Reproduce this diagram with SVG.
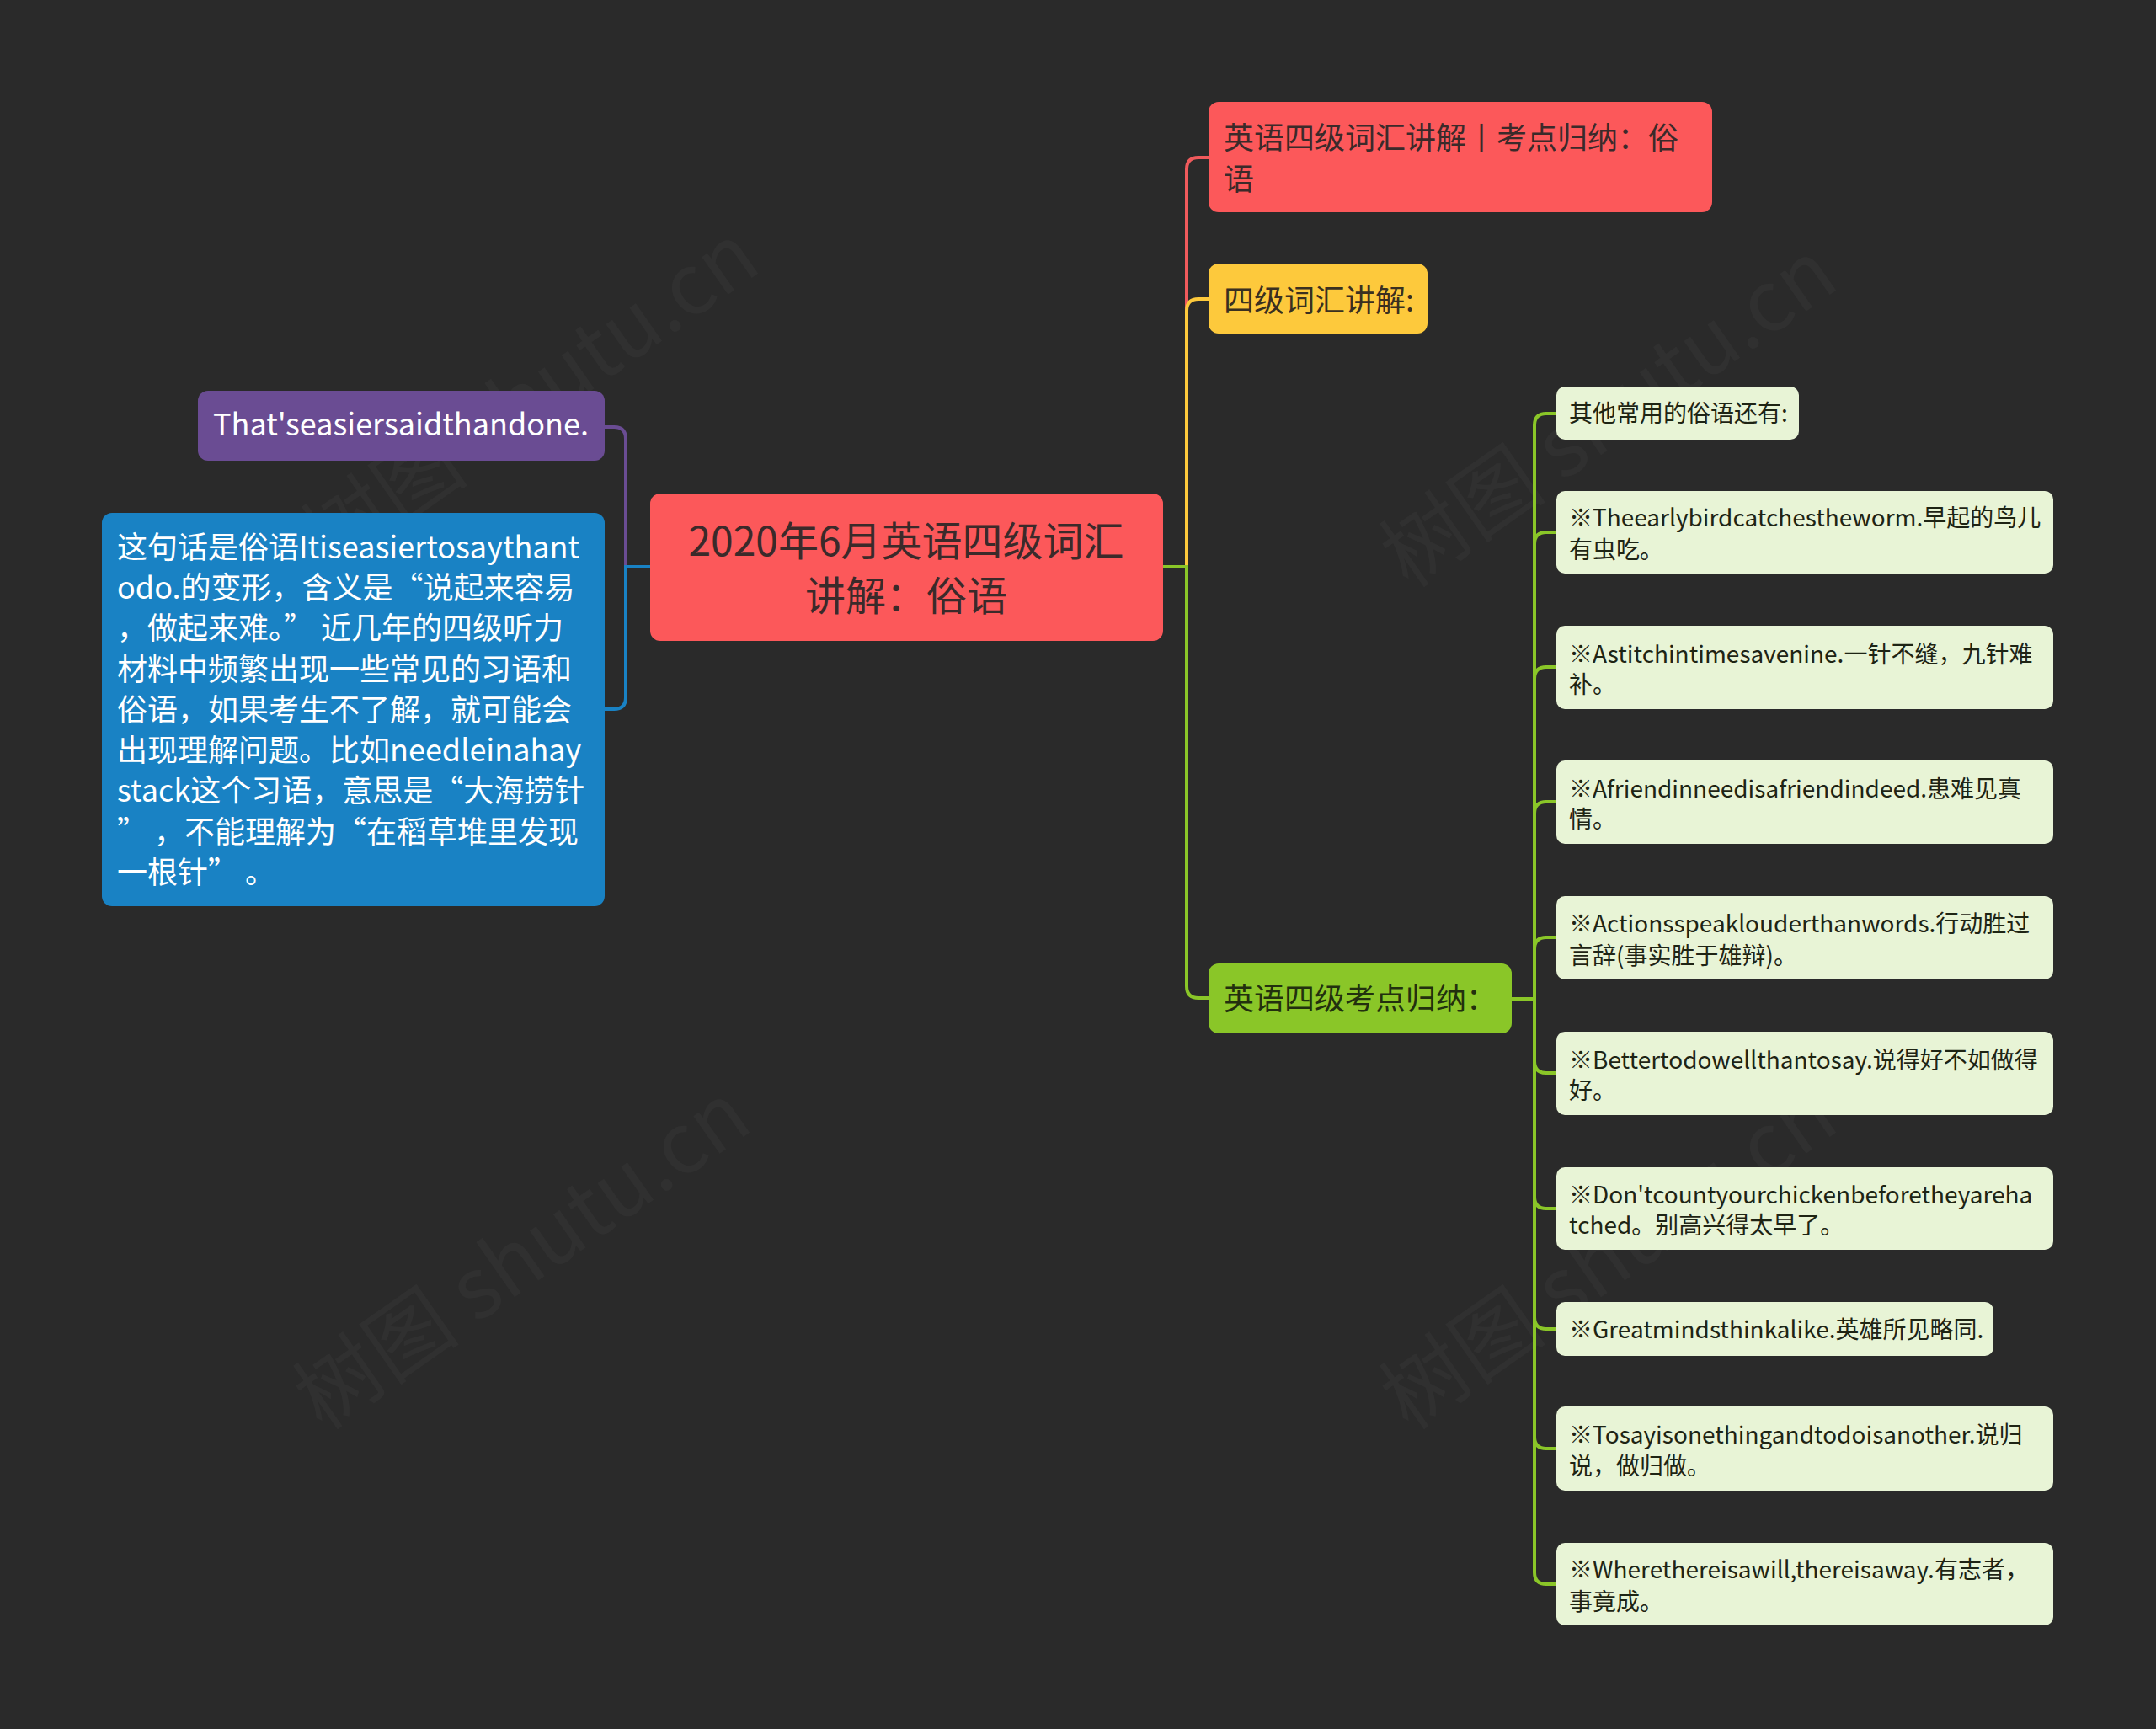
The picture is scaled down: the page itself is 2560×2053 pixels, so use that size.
<svg xmlns="http://www.w3.org/2000/svg" width="2560" height="2053" viewBox="0 0 2560 2053">
<style>
.t{font-family:"Noto Sans CJK SC","Noto Sans",sans-serif}
.c{fill:none;stroke-width:4;stroke-linecap:round}
.sub rect{fill:#E8F4D6}
.sub text{font-size:28px;fill:#1E2414}
.wm{font-family:"Noto Sans CJK SC","Noto Sans",sans-serif;font-size:100px;fill:#ffffff;fill-opacity:0.03}
</style>
<rect width="2560" height="2053" fill="#2A2A2A"/>
<g id="watermarks">
<text class="wm" transform="translate(650 500) rotate(-35)" text-anchor="middle">树图 shutu.cn</text>
<text class="wm" transform="translate(640 1520) rotate(-35)" text-anchor="middle">树图 shutu.cn</text>
<text class="wm" transform="translate(1930 520) rotate(-35)" text-anchor="middle">树图 shutu.cn</text>
<text class="wm" transform="translate(1930 1520) rotate(-35)" text-anchor="middle">树图 shutu.cn</text>
</g>
<g id="connectors">
<path class="c" stroke="#6A4C93" d="M772 673 H743 V521 Q743 507 729 507 H718"/>
<path class="c" stroke="#1982C4" d="M772 673 H743 V828 Q743 842 729 842 H718"/>
<path class="c" stroke="#F05A5C" d="M1381 673 H1409 V201 Q1409 187 1423 187 H1435"/>
<path class="c" stroke="#FDC93C" d="M1381 673 H1409 V369 Q1409 355 1423 355 H1435"/>
<path class="c" stroke="#8AC628" d="M1381 673 H1409 V1171 Q1409 1185 1423 1185 H1435"/>
<g stroke="#8AC628">
<path class="c" d="M1796 1186 H1822 V505 Q1822 491 1836 491 H1848"/>
<path class="c" d="M1796 1186 H1822 V646 Q1822 632 1836 632 H1848"/>
<path class="c" d="M1796 1186 H1822 V806 Q1822 792 1836 792 H1848"/>
<path class="c" d="M1796 1186 H1822 V966 Q1822 952 1836 952 H1848"/>
<path class="c" d="M1796 1186 H1822 V1127 Q1822 1113 1836 1113 H1848"/>
<path class="c" d="M1796 1186 H1822 V1260 Q1822 1274 1836 1274 H1848"/>
<path class="c" d="M1796 1186 H1822 V1421 Q1822 1435 1836 1435 H1848"/>
<path class="c" d="M1796 1186 H1822 V1564 Q1822 1578 1836 1578 H1848"/>
<path class="c" d="M1796 1186 H1822 V1706 Q1822 1720 1836 1720 H1848"/>
<path class="c" d="M1796 1186 H1822 V1867 Q1822 1881 1836 1881 H1848"/>
</g>
</g>
<g id="root">
<rect x="772" y="586" width="609" height="175" rx="12" fill="#FC585A"/>
<text class="t" font-size="48" fill="#3B2A2A" text-anchor="middle"><tspan x="1076" y="660">2020年6月英语四级词汇</tspan><tspan x="1076" y="725">讲解：俗语</tspan></text>
</g>
<g id="n-red">
<rect x="1435" y="121" width="598" height="131" rx="12" fill="#FC585A"/>
<text class="t" font-size="36" fill="#3B2A2A"><tspan x="1453" y="177">英语四级词汇讲解丨考点归纳：俗</tspan><tspan x="1453" y="226">语</tspan></text>
</g>
<g id="n-yellow">
<rect x="1435" y="313" width="260" height="83" rx="12" fill="#FDC93C"/>
<text class="t" font-size="36" fill="#3A3020" x="1453" y="370">四级词汇讲解:</text>
</g>
<g id="n-green">
<rect x="1435" y="1144" width="360" height="83" rx="12" fill="#8AC628"/>
<text class="t" font-size="36" fill="#22300E" x="1453" y="1199">英语四级考点归纳：</text>
</g>
<g id="n-purple">
<rect x="235" y="464" width="483" height="83" rx="12" fill="#6A4C93"/>
<text class="t" font-size="36" fill="#FFFFFF" x="253" y="517">That'seasiersaidthandone.</text>
</g>
<g id="n-blue">
<rect x="121" y="609" width="597" height="467" rx="12" fill="#1982C4"/>
<text class="t" font-size="36" fill="#FFFFFF" xml:space="preserve">
<tspan x="139" y="663">这句话是俗语Itiseasiertosaythant</tspan>
<tspan x="139" y="711">odo.的变形，含义是“说起来容易</tspan>
<tspan x="139" y="759">，做起来难。” 近几年的四级听力</tspan>
<tspan x="139" y="808">材料中频繁出现一些常见的习语和</tspan>
<tspan x="139" y="856">俗语，如果考生不了解，就可能会</tspan>
<tspan x="139" y="904">出现理解问题。比如needleinahay</tspan>
<tspan x="139" y="952">stack这个习语，意思是“大海捞针</tspan>
<tspan x="139" y="1001">” ，不能理解为“在稻草堆里发现</tspan>
<tspan x="139" y="1049">一根针” 。</tspan>
</text>
</g>
<g id="s1" class="sub"><rect x="1848" y="459" width="288" height="63" rx="10"/><text class="t" x="1863" y="501">其他常用的俗语还有:</text></g>
<g id="s2" class="sub"><rect x="1848" y="583" width="590" height="98" rx="10"/><text class="t"><tspan x="1863" y="625">※Theearlybirdcatchestheworm.早起的鸟儿</tspan><tspan x="1863" y="663">有虫吃。</tspan></text></g>
<g id="s3" class="sub"><rect x="1848" y="743" width="590" height="99" rx="10"/><text class="t"><tspan x="1863" y="787">※Astitchintimesavenine.一针不缝，九针难</tspan><tspan x="1863" y="823">补。</tspan></text></g>
<g id="s4" class="sub"><rect x="1848" y="903" width="590" height="99" rx="10"/><text class="t"><tspan x="1863" y="947">※Afriendinneedisafriendindeed.患难见真</tspan><tspan x="1863" y="983">情。</tspan></text></g>
<g id="s5" class="sub"><rect x="1848" y="1064" width="590" height="99" rx="10"/><text class="t"><tspan x="1863" y="1107">※Actionsspeaklouderthanwords.行动胜过</tspan><tspan x="1863" y="1145">言辞(事实胜于雄辩)。</tspan></text></g>
<g id="s6" class="sub"><rect x="1848" y="1225" width="590" height="99" rx="10"/><text class="t"><tspan x="1863" y="1269">※Bettertodowellthantosay.说得好不如做得</tspan><tspan x="1863" y="1305">好。</tspan></text></g>
<g id="s7" class="sub"><rect x="1848" y="1386" width="590" height="98" rx="10"/><text class="t"><tspan x="1863" y="1429">※Don'tcountyourchickenbeforetheyareha</tspan><tspan x="1863" y="1465">tched。别高兴得太早了。</tspan></text></g>
<g id="s8" class="sub"><rect x="1848" y="1546" width="519" height="64" rx="10"/><text class="t" x="1863" y="1589">※Greatmindsthinkalike.英雄所见略同.</text></g>
<g id="s9" class="sub"><rect x="1848" y="1670" width="590" height="100" rx="10"/><text class="t"><tspan x="1863" y="1714">※Tosayisonethingandtodoisanother.说归</tspan><tspan x="1863" y="1751">说，做归做。</tspan></text></g>
<g id="s10" class="sub"><rect x="1848" y="1832" width="590" height="98" rx="10"/><text class="t"><tspan x="1863" y="1874">※Wherethereisawill,thereisaway.有志者，</tspan><tspan x="1863" y="1912">事竟成。</tspan></text></g>
</svg>
